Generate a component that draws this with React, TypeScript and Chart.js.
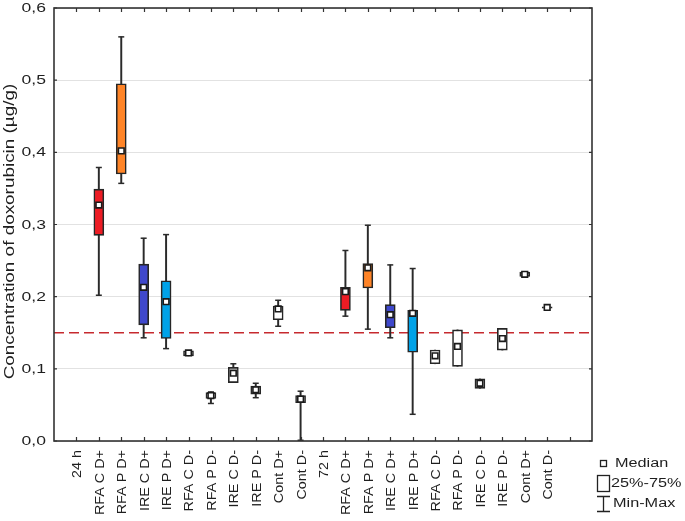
import React, { useEffect, useRef } from "react";
import { Chart, registerables } from "chart.js";

Chart.register(...registerables);

// ---------------- DATA ----------------
const categories = [
  "24 h", "RFA C D+", "RFA P D+", "IRE C D+", "IRE P D+", "RFA C D-", "RFA P D-", "IRE C D-", "IRE P D-", "Cont D+", "Cont D-",
  "72 h", "RFA C D+", "RFA P D+", "IRE C D+", "IRE P D+", "RFA C D-", "RFA P D-", "IRE C D-", "IRE P D-", "Cont D+", "Cont D-",
];
const minValues = [
  null, 0.202, 0.357, 0.143, 0.128, 0.118, 0.052, 0.081, 0.060, 0.159, 0.001,
  null, 0.173, 0.155, 0.143, 0.037, 0.107, 0.1035, 0.073, 0.126, 0.228, 0.184,
];
const q1Values = [
  null, 0.285, 0.370, 0.161, 0.142, 0.118, 0.059, 0.081, 0.065, 0.168, 0.053,
  null, 0.181, 0.212, 0.157, 0.123, 0.107, 0.1035, 0.073, 0.126, 0.228, 0.184,
];
const medianValues = [
  null, 0.327, 0.402, 0.213, 0.193, 0.122, 0.063, 0.094, 0.071, 0.183, 0.058,
  null, 0.207, 0.240, 0.175, 0.177, 0.118, 0.131, 0.080, 0.142, 0.231, 0.185,
];
const q3Values = [
  null, 0.349, 0.495, 0.245, 0.222, 0.125, 0.067, 0.102, 0.076, 0.187, 0.063,
  null, 0.213, 0.246, 0.189, 0.181, 0.126, 0.154, 0.086, 0.156, 0.234, 0.186,
];
const maxValues = [
  null, 0.379, 0.560, 0.281, 0.286, 0.125, 0.068, 0.107, 0.080, 0.195, 0.069,
  null, 0.264, 0.299, 0.244, 0.239, 0.126, 0.154, 0.086, 0.156, 0.234, 0.186,
];
const RED = "#ED1C24";
const ORANGE = "#FF8427";
const INDIGO = "#3F48CC";
const TURQ = "#00A2E8";
const WHITE = "#FFFFFF";
const boxColors = [
  null, RED, ORANGE, INDIGO, TURQ, WHITE, WHITE, WHITE, WHITE, WHITE, WHITE,
  null, RED, ORANGE, INDIGO, TURQ, WHITE, WHITE, WHITE, WHITE, WHITE, WHITE,
];
const yTickValues = [0, 0.1, 0.2, 0.3, 0.4, 0.5, 0.6];
const yTickLabels = ["0,0", "0,1", "0,2", "0,3", "0,4", "0,5", "0,6"];
const thresholdValue = 0.15;
const yAxisTitle = "Concentration of doxorubicin (µg/g)";
const legendLabels = ["Median", "25%-75%", "Min-Max"];

const FONT = '"Liberation Sans", Arial, sans-serif';
const TEXT_COLOR = "#1e1e1e";
const FRAME_COLOR = "#333";

function drawStretchedText(
  ctx: CanvasRenderingContext2D,
  text: string,
  x: number,
  y: number,
  size: number,
  sx: number,
  align: CanvasTextAlign,
  rotate = 0,
  baseline: CanvasTextBaseline = "middle"
) {
  ctx.save();
  ctx.translate(x, y);
  if (rotate) ctx.rotate(rotate);
  ctx.scale(sx, 1);
  ctx.font = `${size}px ${FONT}`;
  ctx.textAlign = align;
  ctx.textBaseline = baseline;
  ctx.fillStyle = TEXT_COLOR;
  ctx.fillText(text, 0, 0);
  ctx.restore();
}

const decorPlugin = {
  id: "decor",
  afterDraw(chart: any) {
    const ctx: CanvasRenderingContext2D = chart.ctx;
    const { left, right, top, bottom } = chart.chartArea;
    const xs = chart.scales.x;
    const ys = chart.scales.y;
    ctx.save();
    // inner ticks
    ctx.strokeStyle = FRAME_COLOR;
    ctx.lineWidth = 1.2;
    ctx.beginPath();
    for (let v = 0; v <= 22; v++) {
      const px = Math.round(xs.getPixelForValue(v)) + 0.5;
      ctx.moveTo(px, bottom);
      ctx.lineTo(px, bottom - 4);
      ctx.moveTo(px, top);
      ctx.lineTo(px, top + 4);
    }
    yTickValues.forEach((v) => {
      const py = ys.getPixelForValue(v);
      ctx.moveTo(left, py);
      ctx.lineTo(left + 3, py);
      ctx.moveTo(right, py);
      ctx.lineTo(right - 3, py);
    });
    ctx.stroke();
    // frame
    ctx.lineWidth = 1.6;
    ctx.strokeStyle = FRAME_COLOR;
    ctx.strokeRect(left, top, right - left, bottom - top);

    // y tick labels
    yTickValues.forEach((v, i) => {
      const py = ys.getPixelForValue(v);
      drawStretchedText(ctx, yTickLabels[i], left - 8, py + 0.5, 13, 1.35, "right");
    });
    // x labels
    categories.forEach((lab, i) => {
      const px = xs.getPixelForValue(i);
      drawStretchedText(ctx, lab, px + 1.5, bottom + 9, 12.5, 1.15, "right", -Math.PI / 2);
    });
    // y title
    drawStretchedText(ctx, yAxisTitle, 14, (top + bottom) / 2 + 7, 14, 1.35, "center", -Math.PI / 2, "alphabetic");

    // legend
    ctx.lineWidth = 1.3;
    ctx.strokeStyle = "#222";
    ctx.fillStyle = "#fff";
    ctx.fillRect(600.5, 460.5, 6, 6);
    ctx.strokeRect(600.5, 460.5, 6, 6);
    ctx.strokeRect(597.5, 475.5, 12, 16);
    ctx.beginPath();
    ctx.moveTo(603.5, 496);
    ctx.lineTo(603.5, 512);
    ctx.moveTo(597, 496.5);
    ctx.lineTo(610, 496.5);
    ctx.moveTo(597, 511.5);
    ctx.lineTo(610, 511.5);
    ctx.stroke();
    drawStretchedText(ctx, legendLabels[0], 615, 464, 12.5, 1.3, "left");
    drawStretchedText(ctx, legendLabels[1], 611, 484, 12.5, 1.3, "left");
    drawStretchedText(ctx, legendLabels[2], 613, 504, 12.5, 1.3, "left");
    ctx.restore();
  },
};

export default function App() {
  const canvasRef = useRef<HTMLCanvasElement | null>(null);

  useEffect(() => {
    document.body.style.margin = "0";
    const canvas = canvasRef.current;
    if (!canvas) return;

    const idx = categories.map((_, i) => i).filter((i) => q1Values[i] !== null);
    const boxData = idx.map((i) => ({ x: i, y: [q1Values[i] as number, q3Values[i] as number] }));
    const whiskerData = idx.map((i) => ({ x: i, y: [minValues[i] as number, maxValues[i] as number] }));
    const medianData = idx.map((i) => ({ x: i, y: medianValues[i] as number }));
    const capData: { x: number; y: number }[] = [];
    idx.forEach((i) => {
      if ((q1Values[i] as number) - (minValues[i] as number) > 0.0005) capData.push({ x: i, y: minValues[i] as number });
      if ((maxValues[i] as number) - (q3Values[i] as number) > 0.0005) capData.push({ x: i, y: maxValues[i] as number });
    });
    const boxBg = idx.map((i) => boxColors[i] as string);

    const chart = new Chart(canvas, {
      type: "bar",
      data: {
        datasets: [
          {
            type: "line",
            data: [
              { x: -1, y: thresholdValue },
              { x: 23, y: thresholdValue },
            ],
            borderColor: "#C62A2F",
            borderWidth: 1.5,
            borderDash: [10, 5],
            pointRadius: 0,
            order: 10,
          } as any,
          {
            type: "bar",
            data: whiskerData,
            backgroundColor: "#2a2a2a",
            borderWidth: 0,
            barThickness: 1.3,
            grouped: false,
            order: 8,
          } as any,
          {
            type: "bar",
            data: boxData,
            backgroundColor: boxBg,
            borderColor: "#262626",
            borderWidth: 1.6,
            borderSkipped: false,
            barThickness: 10,
            grouped: false,
            order: 6,
          } as any,
          {
            type: "scatter",
            data: capData,
            pointStyle: "line",
            pointRadius: 3,
            borderColor: "#2a2a2a",
            borderWidth: 1.5,
            order: 4,
          } as any,
          {
            type: "scatter",
            data: medianData,
            pointStyle: "rect",
            pointRadius: 4,
            backgroundColor: "#ffffff",
            borderColor: "#1a1a1a",
            borderWidth: 1.6,
            order: 2,
          } as any,
        ],
      },
      options: {
        responsive: false,
        animation: false,
        layout: { padding: { top: 8, right: 93, bottom: 0, left: 0 } },
        plugins: { legend: { display: false }, tooltip: { enabled: false } },
        scales: {
          x: {
            type: "linear",
            min: -1,
            max: 23,
            offset: false,
            ticks: { display: false, stepSize: 1 },
            grid: { display: false },
            border: { display: false },
            afterFit: (s: any) => {
              s.height = 80;
            },
          },
          y: {
            type: "linear",
            min: 0,
            max: 0.6,
            ticks: { display: false, stepSize: 0.1 },
            grid: { color: "#e2e2e2", lineWidth: 1, drawTicks: false },
            border: { display: false },
            afterFit: (s: any) => {
              s.width = 54;
            },
          },
        },
      } as any,
      plugins: [decorPlugin],
    });
    return () => chart.destroy();
  }, []);

  return <canvas ref={canvasRef} width={685} height={521} style={{ display: "block" }} />;
}
